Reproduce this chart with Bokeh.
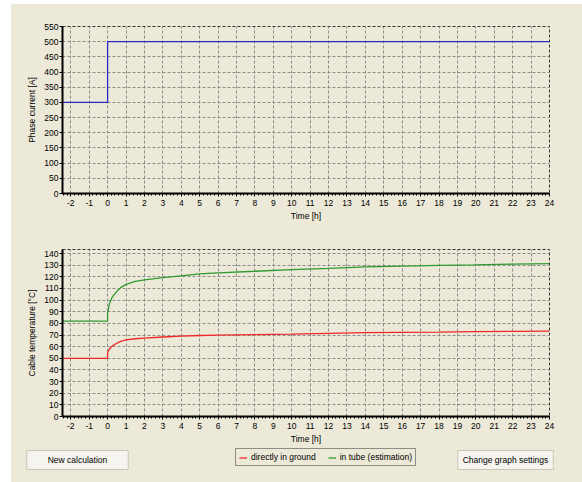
from bokeh.plotting import figure
from bokeh.layouts import column
from bokeh.models import (Range1d, SingleIntervalTicker, Legend, LegendItem, Label)
from bokeh.embed import file_html
from bokeh.resources import INLINE

# ---- data ----
t_current = [-2.45, 0, 0, 24]
phase_current = [300, 300, 500, 500]

t_temp = [-2.45, 0, 0, 0.1, 0.25, 0.5, 0.75, 1, 1.5, 2, 3, 4, 5, 6, 8, 10, 12, 14, 16, 18, 20, 22, 24]
temp_in_tube = [82, 82, 89, 97, 102.5, 107.5, 111.2, 113.5, 116.2, 117.4, 119.3, 120.8, 122.5,
                123.5, 124.8, 126.2, 127.3, 128.5, 129.3, 129.8, 130.3, 130.9, 131.4]
temp_ground = [50, 50, 55, 58, 60.5, 63, 64.8, 65.8, 66.8, 67.3, 68.3, 69, 69.6,
               70, 70.4, 70.7, 71.4, 72, 72.3, 72.5, 72.9, 73.2, 73.3]

x_label = "Time [h]"
y_label_top = "Phase current [A]"
y_label_bottom = "Cable temperature [°C]"
series_names = ["directly in ground", "in tube (estimation)"]
series_colors = ["#f02828", "#2f9a2f"]
button_texts = ["New calculation", "Change graph settings"]

BG = "#ECE9D8"
FONT = "Liberation Sans"
FS = "8.5px"
NAN = float("nan")


def style(p, y_interval):
    p.background_fill_color = BG
    p.border_fill_color = BG
    p.outline_line_color = "#333333"
    p.outline_line_dash = "3 2"
    p.outline_line_width = 1
    p.xaxis.ticker = SingleIntervalTicker(interval=1, num_minor_ticks=5)
    p.yaxis.ticker = SingleIntervalTicker(interval=y_interval, num_minor_ticks=0)
    p.xgrid.ticker = SingleIntervalTicker(interval=1, num_minor_ticks=0)
    p.ygrid.ticker = SingleIntervalTicker(interval=y_interval, num_minor_ticks=0)
    p.xaxis.major_label_overrides = {-2: "-2", -1: "-1"}
    for g in (p.xgrid, p.ygrid):
        g.grid_line_color = "#8c8c8c"
        g.grid_line_dash = "3 2"
        g.grid_line_width = 1
    for ax in (p.xaxis, p.yaxis):
        ax.axis_line_color = "black"
        ax.axis_line_width = 2
        ax.major_tick_line_color = "black"
        ax.minor_tick_line_color = "black"
        ax.major_tick_in = 0
        ax.major_tick_out = 3
        ax.minor_tick_in = 0
        ax.minor_tick_out = 2
        ax.major_label_text_font = FONT
        ax.major_label_text_font_size = FS
        ax.major_label_text_color = "black"
        ax.axis_label_text_font = FONT
        ax.axis_label_text_font_size = FS
        ax.axis_label_text_font_style = "normal"
        ax.axis_label_text_color = "black"
    p.xaxis.major_label_standoff = 3
    p.xaxis.axis_label_standoff = 2
    p.yaxis.major_label_standoff = 1
    p.yaxis.axis_label_standoff = 4
    p.xaxis.axis_label = x_label


# ---- top chart ----
p1 = figure(width=571, height=232, x_range=Range1d(-2.45, 24), y_range=Range1d(0, 550),
            output_backend="svg", toolbar_location=None,
            min_border_left=51, min_border_right=33, min_border_top=22, min_border_bottom=43)
style(p1, 50)
p1.yaxis.axis_label = y_label_top
p1.line(t_current, phase_current, line_color="#2a2ac8", line_width=1.3)

# ---- bottom chart ----
p2 = figure(width=571, height=210, x_range=Range1d(-2.45, 24), y_range=Range1d(0, 143.5),
            output_backend="svg", toolbar_location=None,
            min_border_left=51, min_border_right=33, min_border_top=13, min_border_bottom=30)
style(p2, 10)
p2.yaxis.axis_label = y_label_bottom
p2.line(t_temp, temp_in_tube, line_color=series_colors[1], line_width=1.3)
p2.line(t_temp, temp_ground, line_color=series_colors[0], line_width=1.3)

# ---- footer: legend + buttons ----
p3 = figure(width=571, height=36, x_axis_type=None, y_axis_type=None,
            x_range=Range1d(0, 1), y_range=Range1d(0, 1),
            output_backend="svg", toolbar_location=None,
            min_border=0, min_border_left=0, min_border_right=0,
            min_border_top=0, min_border_bottom=0)
p3.frame_align = False
p3.background_fill_color = BG
p3.border_fill_color = BG
p3.outline_line_color = None
p3.grid.visible = False

# legend swatches (no visible data; only the key is shown)
sw_red = p3.line([NAN, NAN], [NAN, NAN], line_color=series_colors[0], line_width=1.3)
sw_green = p3.line([NAN, NAN], [NAN, NAN], line_color=series_colors[1], line_width=1.3)

legend = Legend(items=[LegendItem(label=series_names[0], renderers=[sw_red]),
                       LegendItem(label=series_names[1], renderers=[sw_green])],
                orientation="horizontal", location=(224, 16))
legend.label_text_font = FONT
legend.label_text_font_size = FS
legend.label_text_color = "black"
legend.glyph_width = 8
legend.glyph_height = 9
legend.label_height = 9
legend.label_standoff = 4
legend.spacing = 12
legend.padding = 3
legend.margin = 0
legend.border_line_color = "#303030"
legend.border_line_width = 1
legend.background_fill_alpha = 0
p3.add_layout(legend)

for txt, cx, padx in [(button_texts[0], 66, 21), (button_texts[1], 494, 5)]:
    p3.add_layout(Label(x=cx + 1, y=21.5, x_units="screen", y_units="screen", text=txt,
                        text_align="center", text_baseline="middle", text_font=FONT,
                        text_font_size=FS, text_alpha=0, background_fill_color="#8c8c80",
                        padding=dict(left=padx, right=padx, top=4, bottom=5)))
    p3.add_layout(Label(x=cx, y=22.5, x_units="screen", y_units="screen", text=txt,
                        text_align="center", text_baseline="middle", text_font=FONT,
                        text_font_size=FS, text_color="black",
                        background_fill_color="#F5F4EE", border_line_color="#c8c6b8",
                        padding=dict(left=padx, right=padx, top=4, bottom=5)))

layout = column(p1, p2, p3, margin=(4, 0, 0, 11), spacing=0,
                styles={"background-color": BG, "gap": "0px"})
open("out.html", "w").write(file_html(layout, INLINE))
